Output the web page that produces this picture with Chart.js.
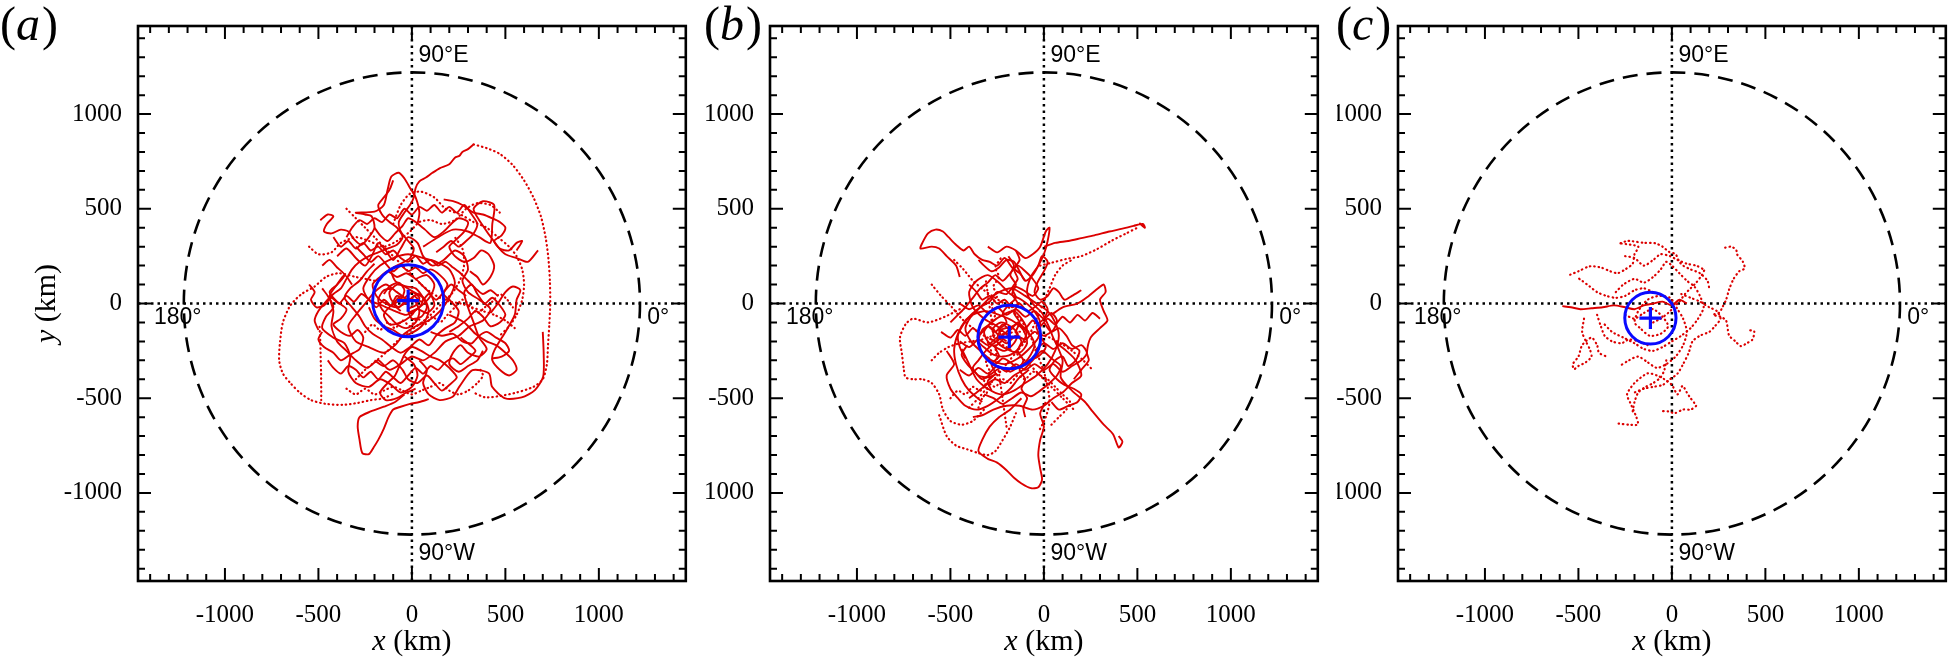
<!DOCTYPE html>
<html>
<head>
<meta charset="utf-8">
<script src="https://cdn.jsdelivr.net/npm/chart.js@4.4.1/dist/chart.umd.min.js"></script>
<style>
  html, body { margin: 0; padding: 0; background: #fff; }
  body { width: 1956px; height: 657px; position: relative; overflow: hidden; }
  .panel { position: absolute; top: 0; height: 657px; overflow: hidden; }
  .panel canvas { position: absolute; top: 0; }
</style>
</head>
<body>
<div class="panel" style="left:0;width:700px"><canvas id="ca" width="700" height="657" style="left:0"></canvas></div>
<div class="panel" style="left:706px;width:631px"><canvas id="cb" width="700" height="657" style="left:-74px"></canvas></div>
<div class="panel" style="left:1337px;width:619px"><canvas id="cc" width="700" height="657" style="left:-77px"></canvas></div>
<script>
// axes (km)
const axisMax = 1465;
const edgeRadius = 1220;          // dashed circle
const xTickValues = [-1000, -500, 0, 500, 1000];
const yTickValues = [-1000, -500, 0, 500, 1000];

// mean position (+) and spread circle for each panel
const centreA = [-20, 15];   const spreadA = 190;
const centreB = [-185, -177]; const spreadB = 168;
const centreC = [-115, -77];  const spreadC = 137;

// ---- panel (a) tracks, [x, y] km ----
const a1 = [[330,840],[400,820],[470,790],[540,730],[600,650],[650,560],[690,460],[715,350],[730,240],[738,120],[740,0],[735,-110],[728,-220],[722,-320],[700,-400],[650,-440],[560,-470],[460,-490],[390,-495],[330,-470]];
const a2 = [[330,840],[300,815],[270,800],[255,780],[230,770],[200,735],[150,715],[110,690],[75,665],[40,645],[20,610],[10,560],[-10,520],[-40,480],[-70,430],[-60,380],[-20,330],[10,290],[-10,240],[-60,210],[-110,180],[-90,120],[-40,90],[10,60],[60,30],[40,-20],[-20,-50]];
const a3 = [[-200,120],[-300,140],[-390,160],[-460,140],[-520,90],[-590,50],[-650,-10],[-690,-100],[-705,-200],[-710,-300],[-690,-370],[-650,-420],[-600,-470],[-540,-510],[-460,-530],[-370,-535],[-290,-525],[-220,-510],[-150,-500],[-90,-470]];
const a4 = [[-40,-480],[-90,-520],[-150,-545],[-220,-570],[-280,-600],[-290,-650],[-280,-720],[-265,-790],[-230,-795],[-205,-760],[-180,-720],[-150,-660],[-125,-600],[-100,-560],[-60,-545],[-10,-530],[40,-520],[90,-505]];
const a5 = [[-490,440],[-450,470],[-420,460],[-455,420],[-470,380],[-430,370],[-380,390],[-340,380],[-310,340],[-270,310],[-230,350],[-200,400],[-215,460],[-250,470],[-300,480],[-200,485],[-150,520],[-130,600],[-110,670],[-70,690],[-40,660],[-10,610],[20,560],[40,480],[30,420]];
const a6 = [[60,300],[140,350],[220,390],[300,380],[360,350],[420,320],[430,420],[440,520],[380,540],[330,500],[360,440],[460,300],[500,260],[560,240],[620,220],[675,281]];
const a7 = [[200,-60],[280,-100],[340,-160],[400,-200],[450,-220],[500,-260],[540,-300],[560,-350],[520,-380],[470,-350],[430,-300],[440,-250],[500,-150],[550,-60],[560,20],[580,70],[540,90],[500,60],[460,0],[420,-50]];
const a8 = [[700,-150],[705,-270],[702,-387],[658,-457],[587,-496],[500,-501],[429,-440],[412,-369],[324,-352],[253,-440],[218,-492],[148,-510],[90,-480],[60,-420],[80,-350],[40,-300]];
const a9 = [[-20,15],[-80,60],[-140,100],[-200,60],[-250,0],[-300,-60],[-340,-120],[-300,-200],[-230,-230],[-150,-260],[-90,-220],[-40,-160],[20,-120],[90,-90],[150,-40],[200,30],[230,110],[200,180],[130,220],[60,240],[-20,260],[-100,240],[-170,200],[-220,150],[-260,80],[-230,20],[-160,-10],[-90,-40],[-30,-60],[40,-20],[100,40],[120,100],[80,150],[20,130]];
const a10 = [[-400,250],[-350,290],[-300,240],[-250,200],[-210,260],[-180,320],[-140,280],[-100,230],[-60,290],[-20,350],[30,320],[60,250],[110,200],[170,230],[230,280],[280,250],[300,180],[270,120],[300,60],[360,20],[420,-30],[380,-90],[310,-120],[250,-170],[180,-200],[120,-260],[60,-300],[0,-280],[-60,-320],[-120,-350],[-180,-300],[-240,-340],[-300,-300],[-350,-250],[-400,-200],[-430,-120],[-420,-40],[-440,40],[-400,100],[-360,150],[-320,100]];
const a11 = [[-100,420],[-60,520],[-10,580],[50,590],[120,560],[180,500],[260,470],[330,430],[400,400],[460,350],[520,300],[560,250],[590,180],[600,100],[590,20],[560,-60],[520,-120],[470,-170]];
const a12 = [[-480,80],[-450,40],[-420,-20],[-460,-70],[-480,-130],[-420,-180],[-360,-210],[-330,-280],[-340,-360],[-300,-420],[-230,-440],[-170,-400],[-110,-430],[-60,-470],[0,-440],[30,-380],[10,-320],[-40,-280]];
const a13 = [[-550,300],[-500,260],[-430,270],[-380,320],[-300,350],[-230,330],[-150,300],[-80,330],[-10,380],[40,430],[100,440],[160,420],[230,440],[290,500],[350,530],[420,520],[470,480]];
const a14 = [[-150,50],[-120,90],[-70,110],[-40,70],[-60,20],[-110,-10],[-150,-60],[-120,-110],[-60,-100],[-10,-70],[30,-30],[80,-50],[120,-10],[100,50],[60,90],[20,130],[-30,160],[-80,140],[-130,170],[-170,140],[-210,100],[-190,40],[-140,0],[-80,-20],[-20,10],[30,50],[70,20],[90,-40],[60,-110],[10,-150],[-50,-170],[-100,-140],[-150,-120],[-200,-80],[-230,-20]];
const a15 = [[-300,300],[-260,260],[-220,220],[-180,250],[-140,210],[-100,170],[-60,200],[-20,170],[20,190],[60,160],[100,180],[150,150],[190,100],[170,50],[210,10],[250,-40],[230,-100],[180,-130],[130,-170],[90,-220],[40,-190],[-10,-230],[-60,-260],[-110,-230],[-160,-190],[-210,-160],[-250,-120],[-280,-70],[-320,-20],[-360,30],[-330,80],[-280,120],[-240,170],[-200,210]];
const a16 = [[200,-150],[250,-120],[300,-80],[340,-40],[380,-70],[420,-120],[470,-100],[500,-60],[470,-10],[430,30],[390,0],[350,50],[320,100],[280,60],[300,-20],[330,-100],[360,-180],[400,-240],[360,-280],[300,-260],[260,-220],[220,-260],[200,-320],[250,-360],[300,-330],[350,-300],[380,-250]];
const a17 = [[-200,400],[-170,360],[-130,330],[-90,370],[-50,410],[-20,450],[20,430],[70,390],[120,350],[170,380],[210,420],[250,450],[300,430],[280,380],[240,340],[200,300],[230,250],[280,220],[330,240],[370,280],[410,260],[440,200],[420,140],[380,100],[350,140],[310,170]];
const a18 = [[170,550],[220,540],[270,520],[330,480],[380,470],[430,450],[470,430],[500,400],[480,360],[440,330],[470,290],[520,280],[560,320],[590,330],[560,280]];
const a19 = [[-480,200],[-440,230],[-400,190],[-360,150],[-400,100],[-440,60],[-400,10],[-350,-30],[-380,-80],[-420,-110],[-380,-150],[-330,-170],[-290,-140],[-260,-180],[-280,-240],[-330,-270],[-380,-300],[-420,-260],[-470,-230],[-500,-190],[-480,-150]];
const a20 = [[-200,-300],[-150,-330],[-100,-300],[-50,-350],[-20,-400],[30,-420],[80,-380],[120,-420],[160,-460],[200,-430],[240,-390],[200,-340],[150,-300],[100,-280],[50,-250],[0,-230],[-40,-270],[-90,-380],[-130,-420],[-170,-470],[-140,-510],[-80,-500],[-30,-470],[20,-450]];
const a21 = [[-300,-400],[-250,-350],[-200,-310],[-140,-260],[-80,-200],[-20,-150],[40,-110],[100,-60],[160,0],[220,60],[260,130],[280,210],[270,290],[230,350]];
const a22 = [[-350,500],[-300,450],[-250,400],[-200,350],[-150,300],[-100,250],[-50,200],[0,150],[50,100],[100,60],[150,30],[200,10],[260,0],[320,-20],[380,-40],[440,-60],[500,-90],[550,-130]];
const a23 = [[-494,-123],[-490,-200],[-488,-280],[-486,-360],[-485,-440],[-485,-510]];
const a24 = [[100,-150],[160,-170],[220,-160],[270,-200],[320,-210],[360,-170],[400,-150],[450,-180],[500,-210],[520,-250],[480,-280],[430,-290]];
const a25 = [[-350,350],[-320,400],[-280,440],[-240,420],[-200,450],[-160,430],[-120,470],[-80,450],[-40,500],[0,470],[40,510],[80,490],[120,520],[160,480],[200,510],[240,480],[280,520],[320,470],[350,420],[330,370],[290,330],[250,300],[210,330],[170,300],[130,270]];
const a26 = [[-450,-300],[-420,-340],[-380,-370],[-340,-330],[-300,-350],[-260,-390],[-220,-360],[-180,-400],[-140,-360],[-100,-390],[-60,-420],[-20,-380],[20,-340],[60,-370],[100,-330],[140,-350],[180,-310],[220,-290],[260,-320],[300,-290],[340,-250],[300,-210],[260,-180]];
const a27 = [[-250,-150],[-210,-110],[-170,-140],[-130,-100],[-90,-130],[-50,-90],[-10,-120],[30,-80],[70,-110],[110,-70],[150,-100],[190,-60],[230,-20],[270,20],[310,-10],[350,-50],[390,-20],[430,10],[470,50],[510,20],[540,-20]];
const a28 = [[-420,350],[-380,300],[-340,330],[-300,290],[-260,320],[-220,280],[-180,300],[-140,260],[-100,280],[-60,240],[-20,220],[20,250],[60,210],[100,230],[140,200],[180,220],[220,190],[260,160],[300,120],[340,80],[380,50],[420,70],[460,40]];
const a29 = [[-60,-40],[-100,0],[-80,40],[-40,30],[0,60],[40,30],[20,-10],[-20,-30],[0,-80],[50,-70],[80,-20],[60,30],[20,80],[-30,90],[-80,100],[-120,60],[-110,20],[-70,-20],[-30,20],[10,20],[40,-40],[20,-100],[-30,-130],[-80,-110],[-120,-70],[-160,-30],[-180,20],[-150,70],[-100,80]];
const a30 = [[-550,100],[-520,60],[-540,20],[-510,-20],[-470,-10],[-430,30],[-390,0],[-350,40],[-310,10],[-270,50],[-230,20],[-190,-20],[-150,20],[-110,-10],[-70,30],[-30,0],[10,40],[50,10],[90,50],[130,20],[170,60],[210,100],[250,70],[290,40]];
const a31 = [[-350,-450],[-300,-480],[-250,-450],[-200,-480],[-150,-460],[-100,-440],[-50,-460],[0,-480],[50,-460],[100,-440],[150,-420],[200,-460],[250,-480],[300,-460],[350,-420],[380,-380],[360,-340]];
const a32 = [[-100,650],[-120,600],[-150,560],[-180,520],[-160,470],[-120,430],[-80,400],[-50,350],[-80,310],[-130,290],[-180,270],[-230,250],[-280,220],[-320,180],[-350,130],[-380,80],[-420,50],[-460,10],[-500,-40],[-520,-90],[-500,-140]];

// ---- panel (b) tracks ----
const b1 = [[0,300],[60,320],[130,330],[200,345],[270,360],[350,380],[420,395],[480,410],[530,420],[540,400],[510,425]];
const b2 = [[-20,200],[40,215],[120,235],[200,250],[280,285],[360,330],[440,370],[500,400]];
const b3 = [[-100,120],[-130,160],[-170,190],[-210,240],[-250,200],[-290,220],[-330,230],[-370,260],[-400,300],[-430,280],[-470,310],[-510,350],[-540,380],[-580,390],[-620,370],[-650,320],[-660,290],[-600,300],[-560,290],[-520,250],[-470,200],[-450,140]];
const b4 = [[-450,-30],[-530,-70],[-620,-100],[-700,-80],[-740,-110],[-770,-180],[-760,-260],[-750,-340],[-740,-390],[-700,-400],[-650,-400],[-600,-420],[-560,-480],[-540,-560],[-500,-620],[-440,-640],[-380,-620],[-320,-560]];
const b5 = [[-120,-500],[-180,-560],[-240,-600],[-290,-650],[-330,-720],[-350,-780],[-300,-820],[-250,-840],[-200,-880],[-160,-920],[-120,-950],[-70,-975],[-30,-970],[-10,-930],[-20,-870],[-30,-800],[-20,-720],[0,-650],[-20,-580],[10,-520]];
const b6 = [[-560,-590],[-520,-700],[-470,-750],[-410,-770],[-350,-790],[-300,-800],[-260,-780],[-220,-720],[-180,-650],[-150,-580]];
const b7 = [[60,-200],[100,-300],[90,-390],[150,-460],[220,-520],[260,-570],[320,-640],[370,-690],[400,-760],[420,-730],[400,-700]];
const b8 = [[40,-60],[100,-20],[180,0],[240,40],[290,80],[320,100],[330,60],[300,20],[320,-40],[340,-90],[300,-130],[250,-180],[230,-260],[240,-300],[200,-350],[160,-400]];
const b9 = [[-185,-177],[-250,-120],[-320,-80],[-380,-20],[-400,60],[-360,120],[-300,150],[-240,110],[-180,50],[-120,20],[-60,-30],[-20,-100],[-30,-180],[-80,-240],[-140,-290],[-210,-320],[-280,-300],[-340,-250],[-390,-200],[-420,-130],[-380,-60],[-310,-40],[-240,-60],[-170,-90],[-110,-140],[-90,-210],[-130,-260],[-200,-240],[-250,-200],[-230,-140],[-160,-120]];
const b10 = [[-440,-240],[-400,-320],[-360,-400],[-300,-450],[-230,-480],[-160,-460],[-100,-420],[-40,-380],[20,-320],[60,-250],[80,-170],[60,-100],[20,-40],[-40,0],[-100,40],[-170,80],[-240,60],[-300,20],[-360,-40],[-420,-90],[-460,-160],[-480,-240],[-470,-320],[-440,-400],[-400,-460],[-330,-520]];
const b11 = [[-300,300],[-250,270],[-200,300],[-150,280],[-100,240],[-60,260],[-20,300],[10,380],[30,400],[20,330],[0,260],[-30,200],[-70,140],[-90,60],[-60,0],[-10,-50],[30,-130],[60,-200],[120,-250],[170,-300],[200,-380],[150,-420],[100,-470],[50,-500],[0,-540],[-60,-560],[-130,-540],[-200,-540],[-270,-560],[-330,-590],[-380,-600]];
const b12 = [[-600,100],[-550,40],[-500,-10],[-440,-80],[-380,-130],[-320,-170],[-260,-200],[-200,-230],[-140,-270],[-80,-320],[-20,-380],[40,-440],[100,-500],[160,-560]];
const b13 = [[-480,230],[-430,180],[-380,120],[-320,70],[-260,30],[-200,-10],[-150,-60],[-100,-120],[-60,-200],[-30,-280],[0,-360],[20,-440],[30,-520],[10,-600],[-30,-680]];
const b14 = [[-520,-250],[-480,-320],[-520,-380],[-500,-450],[-460,-500],[-420,-540],[-360,-560],[-300,-540],[-240,-500],[-180,-450],[-130,-390],[-80,-350]];
const b15 = [[-200,-200],[-240,-170],[-270,-130],[-230,-100],[-180,-120],[-140,-160],[-160,-210],[-210,-250],[-260,-230],[-300,-200],[-320,-150],[-280,-100],[-220,-60],[-160,-40],[-120,-80],[-90,-140],[-110,-200],[-160,-260],[-220,-280],[-270,-270],[-310,-240],[-350,-200],[-330,-140],[-290,-110]];
const b16 = [[-400,100],[-360,60],[-330,20],[-290,40],[-250,0],[-210,20],[-170,-20],[-130,0],[-90,-40],[-50,-20],[-10,10],[20,-30],[0,-80],[-40,-120],[-20,-170],[10,-230],[-30,-280],[-80,-300],[-130,-330],[-180,-360],[-230,-340],[-280,-370],[-330,-400],[-370,-360],[-410,-320],[-440,-270],[-410,-220]];
const b17 = [[-500,-100],[-460,-60],[-420,-20],[-380,30],[-340,80],[-300,110],[-260,150],[-220,120],[-180,160],[-140,200],[-100,170],[-60,130],[-30,80],[-60,40],[-110,70],[-160,90],[-200,50],[-250,60],[-290,10],[-340,-20],[-390,-60],[-430,-110],[-460,-170],[-450,-230],[-420,-290]];
const b18 = [[-400,-500],[-360,-470],[-310,-430],[-260,-400],[-210,-420],[-160,-380],[-110,-350],[-60,-300],[-10,-250],[40,-290],[90,-330],[70,-380],[30,-420],[-20,-460],[-70,-490],[-120,-470],[-170,-500],[-220,-530],[-270,-500],[-320,-480]];
const b19 = [[-300,-300],[-260,-320],[-220,-290],[-180,-310],[-140,-340],[-100,-310],[-70,-270],[-50,-220],[-70,-170],[-110,-130],[-150,-110],[-200,-150],[-240,-190],[-280,-220],[-320,-260],[-350,-300],[-380,-340],[-350,-380],[-300,-390],[-250,-370]];
const b20 = [[0,-100],[40,-150],[80,-130],[120,-170],[150,-220],[190,-250],[170,-300],[130,-330],[100,-280],[60,-300],[30,-350],[70,-400],[110,-430],[160,-450],[200,-480],[180,-520],[130,-540],[80,-560],[40,-520]];
const b21 = [[-350,230],[-320,200],[-280,170],[-240,190],[-200,230],[-160,220],[-130,170],[-100,120],[-60,150],[-30,200],[-10,250],[20,220],[0,170],[-30,120],[-50,60],[-20,20],[20,40],[50,80],[80,60],[110,20],[150,40],[200,70]];
const b22 = [[-400,-550],[-350,-500],[-300,-440],[-250,-380],[-200,-320],[-150,-260],[-100,-200],[-60,-130],[-30,-60],[0,10],[30,80],[60,150],[100,200],[150,230]];
const b23 = [[-600,-300],[-560,-260],[-510,-230],[-450,-210],[-390,-200],[-330,-190],[-270,-170],[-210,-160],[-150,-150],[-90,-150],[-30,-160],[30,-180],[90,-210],[150,-250],[210,-300],[260,-350]];
const b24 = [[-200,-650],[-210,-580],[-220,-510],[-230,-440],[-240,-370],[-250,-300],[-260,-230],[-270,-160],[-280,-90],[-290,-20],[-300,50],[-310,120]];
const b25 = [[-450,0],[-400,-30],[-350,-10],[-300,-50],[-250,-20],[-200,-60],[-150,-30],[-100,-70],[-50,-40],[0,-80],[40,-50],[70,-90],[50,-140],[0,-170],[-50,-150],[-100,-190],[-150,-170],[-200,-210],[-250,-180],[-300,-220],[-350,-190],[-400,-230],[-450,-200]];
const b26 = [[-450,-350],[-400,-380],[-350,-340],[-300,-370],[-250,-330],[-200,-360],[-150,-320],[-100,-350],[-50,-320],[0,-350],[50,-320],[100,-360],[150,-330],[200,-300],[230,-260],[200,-220],[150,-240],[100,-210],[50,-240],[0,-210],[-50,-250]];
const b27 = [[-350,-550],[-330,-500],[-300,-460],[-320,-410],[-290,-360],[-310,-310],[-280,-260],[-300,-210],[-270,-160],[-290,-110],[-260,-60],[-280,-10],[-250,40],[-270,90],[-240,140],[-260,190],[-230,240]];
const b28 = [[-100,-600],[-110,-550],[-90,-500],[-120,-450],[-100,-400],[-130,-350],[-110,-300],[-140,-250],[-120,-200],[-150,-150],[-130,-100],[-160,-50],[-140,0],[-170,50],[-150,100],[-180,150],[-160,200],[-190,250]];
const b29 = [[-550,-150],[-500,-180],[-460,-140],[-420,-170],[-380,-130],[-340,-160],[-300,-120],[-260,-150],[-220,-110],[-180,-140],[-140,-100],[-100,-130],[-60,-90],[-20,-120],[20,-80],[60,-110],[100,-70],[140,-100],[180,-60],[220,-90],[260,-50],[300,-80]];
const b30 = [[-500,-500],[-460,-460],[-420,-480],[-380,-440],[-340,-460],[-300,-420],[-260,-440],[-220,-400],[-180,-420],[-140,-380],[-100,-400],[-60,-360],[-20,-380],[20,-400],[60,-440],[100,-480],[140,-520],[120,-560],[80,-600],[40,-640]];
const b31 = [[-150,280],[-130,230],[-160,180],[-140,130],[-170,80],[-150,30],[-190,-10],[-220,-50],[-200,-100],[-240,-140],[-220,-190],[-260,-230],[-240,-280],[-280,-320],[-260,-370],[-300,-410],[-280,-460]];

// ---- panel (c) tracks ----
const c1 = [[285,295],[320,300],[345,280],[347,262],[380,220],[389,185],[360,170],[330,130],[306,74],[290,20],[270,-20],[254,-48],[220,-60],[260,-70],[290,-90],[306,-169],[340,-200],[368,-225],[400,-210],[430,-191],[440,-147],[400,-140]];
const c2 = [[-275,318],[-240,330],[-213,329],[-150,320],[-89,318],[-50,300],[-16,273],[20,260],[40,220],[60,200],[100,180],[150,160],[190,120],[200,80]];
const c3 = [[-544,152],[-500,170],[-441,196],[-380,190],[-330,170],[-290,160],[-250,180],[-210,210],[-200,260],[-180,300],[-275,318]];
const c4 = [[-586,-14],[-540,-20],[-490,-30],[-430,-25],[-370,-20],[-310,-10],[-250,-20],[-200,-30],[-150,-10],[-100,0],[-50,10],[0,-10],[40,20],[80,0]];
const c5 = [[-470,-80],[-480,-150],[-460,-200],[-440,-240],[-430,-280],[-460,-310],[-500,-330],[-524,-347],[-530,-320],[-500,-280],[-480,-220],[-430,-180],[-400,-220],[-390,-260],[-350,-280]];
const c6 = [[-285,-634],[-230,-640],[-182,-639],[-190,-600],[-223,-524],[-240,-480],[-200,-420],[-130,-369],[-80,-380],[-40,-400],[0,-430],[30,-480],[57,-435],[80,-470],[100,-500],[119,-524],[130,-540],[100,-560],[60,-560],[15,-579],[-20,-570],[-57,-568]];
const c7 = [[-300,60],[-260,100],[-200,130],[-150,110],[-100,140],[-60,180],[-30,220],[0,200],[40,160],[80,120],[120,90],[150,40],[170,-20],[140,-80],[100,-130],[50,-170],[0,-200],[-50,-230],[-100,-250],[-150,-240],[-200,-210],[-260,-180],[-320,-150],[-370,-100]];
const c8 = [[-250,-60],[-200,-80],[-150,-50],[-100,-30],[-50,-70],[-20,-120],[-60,-160],[-120,-170],[-170,-130],[-200,-100],[-180,-40],[-130,20],[-70,40],[-10,30],[30,-30],[60,-80],[80,-150],[60,-220],[20,-280],[-30,-320],[-80,-340],[-130,-310],[-180,-280],[-230,-300],[-280,-330]];
const c9 = [[50,50],[100,30],[150,10],[200,-20],[240,-40],[260,-80],[230,-120],[200,-150],[150,-170],[110,-200],[90,-260],[60,-320],[30,-370],[-10,-400],[-50,-430],[-100,-440],[-150,-450],[-200,-470]];
const c10 = [[-100,60],[-150,80],[-200,70],[-250,40],[-300,30],[-350,40],[-400,60],[-440,90],[-480,120],[-510,140]];
const c11 = [[-100,-100],[-60,-80],[-20,-50],[10,-20],[40,10],[70,50],[100,80],[130,110],[160,150],[180,190]];
const c12 = [[-30,-300],[-40,-350],[-60,-390],[-100,-420],[-140,-440],[-180,-470],[-200,-520],[-210,-570]];
const c13 = [[-400,-60],[-380,-120],[-360,-170],[-320,-200],[-270,-210],[-230,-190],[-180,-200],[-130,-220]];
const c14 = [[-250,250],[-200,240],[-150,200],[-100,230],[-60,260],[-10,250],[30,230],[80,210],[130,200],[170,180]];

// compass labels: text, x, y (km)
const compassText = ['90°E', '90°W', '180°', '0°'];
const compassX = [35, 35, -1380, 1259];
const compassY = [1310, -1322, -77, -77];

const RED = 'rgb(220,0,0)';
const BLUE = 'rgb(10,10,255)';
const SERIF = "'Liberation Serif', 'Times New Roman', serif";

Chart.defaults.font.family = SERIF;
Chart.defaults.color = '#000';

function trackSet(pts, dotted) {
  return {
    data: pts.map(p => ({ x: p[0], y: p[1] })),
    showLine: true,
    borderColor: RED,
    borderWidth: dotted ? 2.2 : 1.9,
    borderDash: dotted ? [0.5, 3.8] : [],
    borderCapStyle: dotted ? 'round' : 'butt',
    pointRadius: 0,
    tension: 0.25,
    order: 1
  };
}

// inward ticks, frame, circles and text
const overlay = {
  id: 'overlay',
  beforeDatasetsDraw(chart, args, o) {
    const { ctx, scales: { x, y } } = chart;
    const cx = x.getPixelForValue(0), cy = y.getPixelForValue(0);
    ctx.save();
    ctx.strokeStyle = '#000';
    ctx.lineWidth = 2.6;
    ctx.setLineDash([15, 9]);
    ctx.beginPath();
    ctx.ellipse(cx, cy, x.getPixelForValue(edgeRadius) - cx, cy - y.getPixelForValue(edgeRadius), 0, 0, 2 * Math.PI);
    ctx.stroke();
    ctx.restore();
  },
  afterDatasetsDraw(chart, args, o) {
    const { ctx, scales: { x, y } } = chart;
    const cx = x.getPixelForValue(o.centre[0]), cy = y.getPixelForValue(o.centre[1]);
    ctx.save();
    ctx.strokeStyle = BLUE;
    ctx.lineWidth = 3;
    ctx.beginPath();
    ctx.ellipse(cx, cy, x.getPixelForValue(o.centre[0] + o.radius) - cx, cy - y.getPixelForValue(o.centre[1] + o.radius), 0, 0, 2 * Math.PI);
    ctx.stroke();
    ctx.restore();
  },
  afterDraw(chart, args, o) {
    const { ctx, chartArea: a, scales: { x, y } } = chart;
    ctx.save();
    ctx.strokeStyle = '#000';
    ctx.lineWidth = 2.6;
    ctx.strokeRect(a.left, a.top, a.right - a.left, a.bottom - a.top);

    ctx.lineWidth = 2;
    ctx.beginPath();
    for (let v = -1400; v <= 1400; v += 100) {
      const len = v % 500 === 0 ? 13 : 7;
      const px = x.getPixelForValue(v), py = y.getPixelForValue(v);
      ctx.moveTo(px, a.bottom); ctx.lineTo(px, a.bottom - len);
      ctx.moveTo(px, a.top); ctx.lineTo(px, a.top + len);
      ctx.moveTo(a.left, py); ctx.lineTo(a.left + len, py);
      ctx.moveTo(a.right, py); ctx.lineTo(a.right - len, py);
    }
    ctx.stroke();

    // compass labels
    ctx.fillStyle = '#000';
    ctx.font = "23px 'Liberation Sans', Arial, sans-serif";
    ctx.textBaseline = 'middle';
    ctx.textAlign = 'left';
    compassText.forEach((t, i) => {
      ctx.fillText(t, x.getPixelForValue(compassX[i]), y.getPixelForValue(compassY[i]));
    });

    // axis titles: italic variable + " (km)"
    const drawTitle = (v, cxp, base) => {
      const fi = 'italic 30px ' + SERIF;
      const fn = '30px ' + SERIF;
      ctx.font = fi; const w1 = ctx.measureText(v).width;
      ctx.font = fn; const w2 = ctx.measureText(' (km)').width;
      const x0 = cxp - (w1 + w2) / 2;
      ctx.textAlign = 'left';
      ctx.textBaseline = 'alphabetic';
      ctx.font = fi; ctx.fillText(v, x0, base);
      ctx.font = fn; ctx.fillText(' (km)', x0 + w1, base);
    };
    drawTitle('x', (a.left + a.right) / 2, 650);
    ctx.save();
    ctx.translate(55, (a.top + a.bottom) / 2);
    ctx.rotate(-Math.PI / 2);
    drawTitle('y', 0, 0);
    ctx.restore();

    // panel label
    ctx.textBaseline = 'alphabetic';
    ctx.font = '48px ' + SERIF;
    let px = o.labelX;
    ctx.fillText('(', px, 40); px += ctx.measureText('(').width;
    ctx.font = 'italic 48px ' + SERIF;
    ctx.fillText(o.letter, px, 40); px += ctx.measureText(o.letter).width + 2;
    ctx.font = '48px ' + SERIF;
    ctx.fillText(')', px, 40);
    ctx.restore();
  }
};

function makePanel(id, tracks, dotted, centre, radius, letter, labelX) {
  const datasets = [];
  datasets.push({
    data: [{ x: centre[0], y: centre[1] }],
    showLine: false, pointStyle: 'cross', pointRadius: 11, pointBorderWidth: 3.2,
    borderColor: BLUE, backgroundColor: BLUE, order: 0
  });
  tracks.forEach((t, i) => datasets.push(trackSet(t, dotted[i])));
  datasets.push({
    data: [{ x: -axisMax, y: 0 }, { x: axisMax, y: 0 }], showLine: true, borderColor: '#000',
    borderWidth: 2.5, borderDash: [2.5, 4], pointRadius: 0, order: 2
  });
  datasets.push({
    data: [{ x: 0, y: -axisMax }, { x: 0, y: axisMax }], showLine: true, borderColor: '#000',
    borderWidth: 2.5, borderDash: [2.5, 4], pointRadius: 0, order: 2
  });

  new Chart(document.getElementById(id), {
    type: 'scatter',
    data: { datasets },
    plugins: [overlay],
    options: {
      responsive: false,
      animation: false,
      devicePixelRatio: 1,
      layout: { padding: { left: 0, right: 7, top: 26, bottom: 0 } },
      plugins: {
        legend: { display: false },
        tooltip: { enabled: false },
        overlay: { centre, radius, letter, labelX }
      },
      scales: {
        x: {
          type: 'linear', min: -axisMax, max: axisMax,
          afterBuildTicks: s => { s.ticks = xTickValues.map(v => ({ value: v })); },
          afterFit: s => { s.height = 76; },
          grid: { display: false }, border: { display: false },
          ticks: { padding: 11, font: { family: SERIF, size: 25 }, maxRotation: 0, autoSkip: false, callback: v => String(v) }
        },
        y: {
          type: 'linear', min: -axisMax, max: axisMax,
          afterBuildTicks: s => { s.ticks = yTickValues.map(v => ({ value: v })); },
          afterFit: s => { s.width = 138; },
          grid: { display: false }, border: { display: false },
          ticks: { padding: 8, font: { family: SERIF, size: 25 }, autoSkip: false, callback: v => String(v) }
        }
      }
    }
  });
}

const dottedA = [true, false, true, false, false, false, false, false, false, false, true, false, true,
  false, false, false, false, false, false, false, true, true, true, false,
  false, false, true, false, false, false, true, false];
const dottedB = [false, true, false, true, false, true, false, false, false, false, false, true, true, false,
  false, false, false, false, false, false, false, true, true, true,
  false, false, true, false, false, true, false];
const dottedC = [true, true, true, false, true, true, true, true, true, true, true, true, true, true];

makePanel('ca', [a1, a2, a3, a4, a5, a6, a7, a8, a9, a10, a11, a12, a13, a14, a15, a16,
  a17, a18, a19, a20, a21, a22, a23, a24, a25, a26, a27, a28, a29, a30, a31, a32],
  dottedA, centreA, spreadA, 'a', 0);
makePanel('cb', [b1, b2, b3, b4, b5, b6, b7, b8, b9, b10, b11, b12, b13, b14, b15, b16,
  b17, b18, b19, b20, b21, b22, b23, b24, b25, b26, b27, b28, b29, b30, b31],
  dottedB, centreB, spreadB, 'b', 72);
makePanel('cc', [c1, c2, c3, c4, c5, c6, c7, c8, c9, c10, c11, c12, c13, c14],
  dottedC, centreC, spreadC, 'c', 76);
</script>
</body>
</html>
